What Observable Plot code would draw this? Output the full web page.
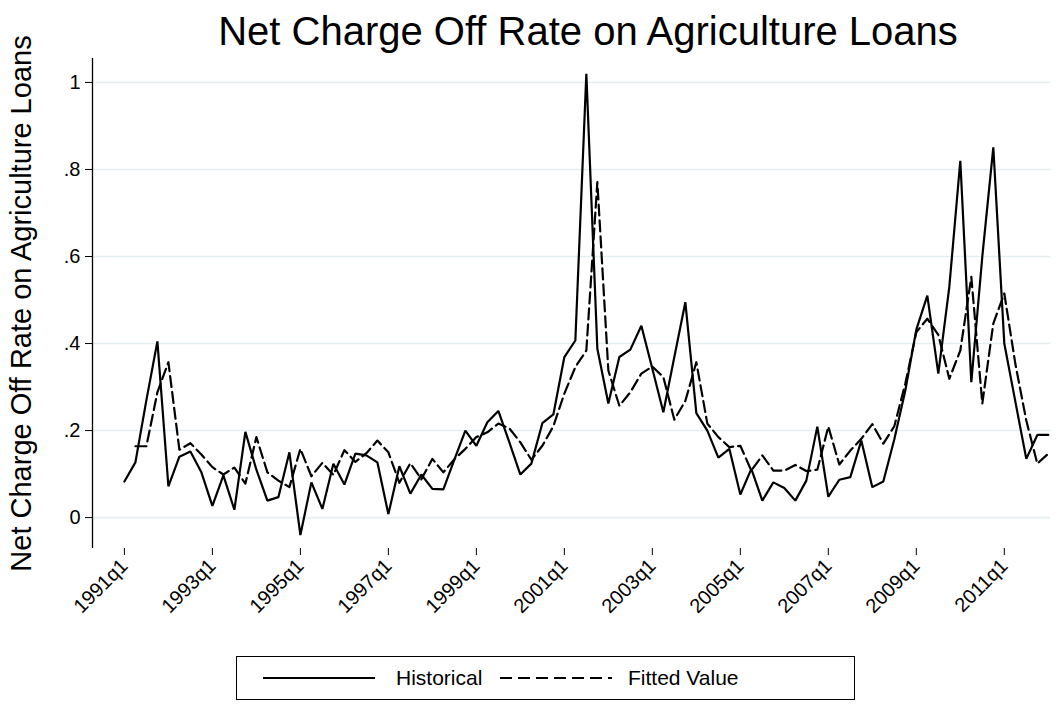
<!DOCTYPE html>
<html>
<head>
<meta charset="utf-8">
<script src="https://cdn.jsdelivr.net/npm/d3@7"></script>
<script src="https://cdn.jsdelivr.net/npm/@observablehq/plot@0.6"></script>
<style>
  body { margin: 0; background: #ffffff; font-family: "Liberation Sans", Arial, sans-serif; }
  #page { width: 1056px; height: 725px; position: relative; overflow: hidden; }
  #title { box-sizing: border-box; width: 1056px; height: 54px; padding-top: 12px; padding-left: 120px;
           font-size: 40px; line-height: 39px; text-align: center; color: #000; white-space: nowrap; }
  #legend { position: absolute; left: 236px; top: 656px; width: 619px; height: 44px; box-sizing: border-box;
            border: 1px solid #000; background: #fff; }
  #legend .lbl { position: absolute; top: 0; height: 42px; line-height: 42px; font-size: 21px; color: #000; white-space: nowrap; }
  #legend svg { position: absolute; top: 0; }
</style>
</head>
<body>
<div id="page">
  <div id="title">Net Charge Off Rate on Agriculture Loans</div>
  <div id="chart"></div>
  <div id="legend">
    <svg width="120" height="42" style="left:22px"><line x1="4" x2="116" y1="21" y2="21" stroke="#000" stroke-width="2"/></svg>
    <span class="lbl" style="left:159px">Historical</span>
    <svg width="120" height="42" style="left:259px"><line x1="4" x2="116" y1="21" y2="21" stroke="#000" stroke-width="2" stroke-dasharray="12,6"/></svg>
    <span class="lbl" style="left:391px">Fitted Value</span>
  </div>
</div>
<script>
// Quarter index 0 = 1991q1 ... 84 = 2012q1
const tickIndex = [0, 8, 16, 24, 32, 40, 48, 56, 64, 72, 80];
const tickLabels = ["1991q1","1993q1","1995q1","1997q1","1999q1","2001q1","2003q1","2005q1","2007q1","2009q1","2011q1"];
const yTicks = [0, 0.2, 0.4, 0.6, 0.8, 1];
const yTitle = "Net Charge Off Rate on Agriculture Loans";

const historical = [
  0.083, 0.127, 0.27, 0.405, 0.072, 0.14, 0.152, 0.104, 0.027, 0.097,
  0.018, 0.197, 0.11, 0.039, 0.047, 0.15, -0.04, 0.081, 0.02, 0.124,
  0.076, 0.147, 0.143, 0.127, 0.008, 0.118, 0.055, 0.099, 0.066, 0.065,
  0.133, 0.2, 0.165, 0.219, 0.245, 0.173, 0.099, 0.124, 0.217, 0.237,
  0.369, 0.407, 1.02, 0.388, 0.262, 0.369, 0.386, 0.441, 0.342, 0.242,
  0.369, 0.495, 0.24, 0.2, 0.138, 0.158, 0.053, 0.112, 0.039, 0.081,
  0.068, 0.039, 0.085, 0.209, 0.048, 0.087, 0.093, 0.177, 0.07, 0.083,
  0.18, 0.292, 0.432, 0.51, 0.331, 0.53, 0.82, 0.311, 0.6, 0.851,
  0.4, 0.267, 0.135, 0.19, 0.19
];

const fitted = [
  null, 0.164, 0.164, 0.288, 0.357, 0.156, 0.171, 0.145, 0.116, 0.099,
  0.115, 0.078, 0.185, 0.104, 0.085, 0.07, 0.158, 0.095, 0.126, 0.098,
  0.155, 0.128, 0.148, 0.177, 0.15, 0.08, 0.125, 0.088, 0.135, 0.104,
  0.134, 0.158, 0.185, 0.196, 0.216, 0.205, 0.173, 0.133, 0.165, 0.21,
  0.285, 0.346, 0.384, 0.771, 0.338, 0.257, 0.288, 0.331, 0.347, 0.323,
  0.225, 0.268, 0.357, 0.216, 0.185, 0.162, 0.165, 0.108, 0.143, 0.108,
  0.108, 0.121, 0.107, 0.11, 0.209, 0.122, 0.154, 0.181, 0.215, 0.17,
  0.21, 0.308, 0.426, 0.457, 0.42, 0.319, 0.384, 0.553, 0.262, 0.446,
  0.515, 0.354, 0.223, 0.124, 0.147
];

const rows = historical.map((h, i) => ({i, hist: h, fit: fitted[i]}));
const tickLabelOf = new Map(tickIndex.map((t, k) => [t, tickLabels[k]]));
const yFmt = d => d === 0 ? "0" : d === 1 ? "1" : d3.format(".1f")(d).replace(/^0/, "");

const chart = Plot.plot({
  width: 1056,
  height: 592,
  marginTop: 4,
  marginBottom: 98,
  marginLeft: 92,
  marginRight: 6,
  style: {fontFamily: "'Liberation Sans', Arial, sans-serif", color: "#000", overflow: "visible", background: "#fff"},
  x: {domain: [-2.9, 84.2]},
  y: {domain: [-0.071, 1.055]},
  marks: [
    Plot.gridY(yTicks, {stroke: "#e4eef0", strokeOpacity: 1, strokeWidth: 1.6}),
    Plot.ruleX([-2.9], {stroke: "#000", strokeWidth: 1.3}),
    Plot.axisY(yTicks, {tickFormat: yFmt, fontSize: 20, tickSize: 7, tickPadding: 5, label: null}),
    Plot.text([yTitle], {frameAnchor: "left", rotate: -90, dx: -82, textAnchor: "middle", lineAnchor: "top", fontSize: 29, fill: "#000"}),
    Plot.axisX(tickIndex, {
      tickFormat: d => tickLabelOf.get(d), tickRotate: -45, fontSize: 20, tickSize: 7, tickPadding: 7,
      label: null
    }),
    Plot.line(rows, {x: "i", y: "hist", stroke: "#000", strokeWidth: 2.2, strokeLinejoin: "miter"}),
    Plot.line(rows, {x: "i", y: "fit", stroke: "#000", strokeWidth: 2.2, strokeDasharray: "11,5"})
  ]
});
document.getElementById("chart").appendChild(chart);
</script>
</body>
</html>
